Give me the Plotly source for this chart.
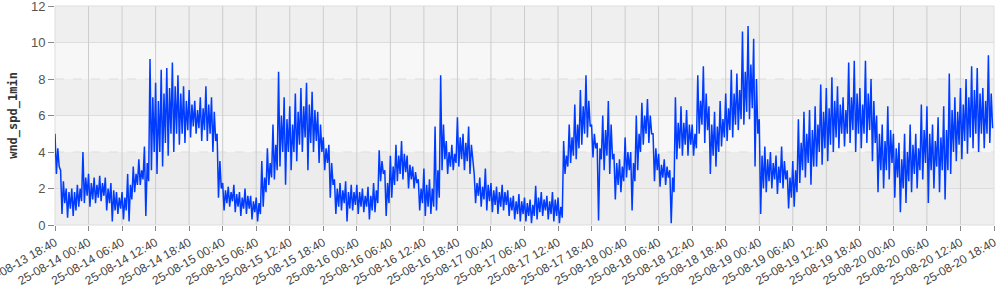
import plotly.graph_objects as go
import pandas as pd
import numpy as np

start_time = "2025-08-13 18:40"

# hourly extreme high / low of the 1-min wind speed
hourly_high = [
    5.0, 3.0, 2.0, 2.0, 2.2, 4.0,
    2.8, 2.6, 2.7, 2.6, 2.3, 1.8,
    1.8, 2.8, 3.2, 3.6, 4.3, 9.1,
    7.8, 8.5, 8.6, 8.9, 8.2, 7.6,
    7.4, 6.8, 7.0, 7.6, 7.0, 5.0,
    2.3, 2.1, 2.2, 1.8, 2.0, 1.6,
    1.5, 3.5, 4.2, 5.5, 8.4, 7.0,
    6.5, 7.2, 7.5, 7.8, 7.3, 6.2,
    4.8, 4.4, 2.5, 2.3, 2.4, 2.2,
    2.2, 2.0, 2.1, 2.3, 4.1, 3.0,
    3.8, 4.4, 4.6, 3.8, 3.2, 2.5,
    3.1, 2.5, 5.4, 8.2, 4.6, 4.4,
    5.9, 5.0, 5.4, 2.8, 2.6, 3.1,
    2.3, 2.1, 2.2, 1.9, 1.6, 1.7,
    1.5, 1.4, 2.15, 1.8, 1.6, 1.8,
    1.5, 4.6, 5.5, 6.6, 7.4, 8.2,
    5.5, 4.5, 6.0, 6.8, 3.9, 3.6,
    4.8, 4.0, 6.0, 6.7, 6.9, 5.0,
    3.9, 3.6, 3.0, 7.0, 6.5, 6.3,
    5.5, 8.2, 8.7, 6.5, 6.2, 6.8,
    7.2, 8.5, 8.3, 10.6, 10.9, 10.2,
    5.8, 4.3, 4.0, 3.8, 4.3, 3.0,
    3.5, 5.8, 6.2, 6.3, 6.5, 7.7,
    7.5, 8.1, 7.6, 7.0, 8.9, 9.0,
    7.5, 9.0, 8.0, 6.0, 5.5, 6.5,
    5.0, 4.5, 5.0, 5.5, 5.0, 6.6,
    6.5, 5.5, 5.9, 6.5, 8.3, 7.0,
    7.5, 8.0, 8.7, 8.6, 7.5, 9.3,
]
hourly_low = [
    2.8, 0.6, 0.4, 0.5, 1.0, 1.2,
    1.0, 1.2, 1.3, 0.8, 0.2, 0.6,
    0.3, 0.2, 1.8, 2.2, 0.5, 3.0,
    2.8, 3.2, 3.8, 4.0, 4.4, 4.5,
    4.8, 5.0, 4.6, 4.6, 4.0, 1.5,
    0.8, 1.0, 0.7, 0.5, 0.6, 0.3,
    0.2, 1.0, 2.2, 2.5, 3.2, 2.2,
    3.0, 3.5, 4.0, 3.0, 4.0, 3.4,
    3.0, 1.5, 0.6, 0.8, 0.2, 0.8,
    0.6, 0.7, 0.3, 0.7, 2.4, 0.5,
    1.5, 2.4, 2.5, 2.0, 2.0, 0.8,
    0.5, 0.6, 0.8, 3.0, 2.8, 3.0,
    3.2, 3.0, 2.8, 1.2, 1.0, 0.8,
    0.7, 0.6, 0.8, 0.5, 0.3, 0.2,
    0.2, 0.1, 0.3, 0.5, 0.3, 0.2,
    0.1, 2.8, 3.4, 3.6, 4.4, 4.8,
    3.7, 0.25, 3.0, 2.8, 1.4, 1.8,
    2.6, 0.8, 3.0, 4.4, 4.5, 2.4,
    2.1, 2.2, 0.1, 3.6, 3.8, 3.8,
    3.8, 5.0, 4.5, 2.8, 3.2, 4.3,
    4.6, 4.8, 5.2, 5.5, 5.8, 3.2,
    0.6, 1.8, 2.0, 1.7, 2.0, 0.9,
    1.0, 2.3, 2.6, 2.2, 3.2, 3.3,
    3.5, 4.0, 4.2, 4.3, 4.5, 4.0,
    4.2, 4.5, 3.5, 1.8, 2.0, 2.5,
    1.5, 0.7, 1.2, 1.8, 2.0, 2.5,
    1.2, 2.0, 1.8, 1.4, 2.8, 3.5,
    3.6, 3.9, 4.2, 4.0, 4.2, 4.5,
]
# hourly typical upper / lower edge of the dense band
hourly_high2 = [
    4.2, 2.4, 1.8, 1.8, 2.0, 2.6,
    2.3, 2.2, 2.3, 2.0, 1.9, 1.5,
    1.5, 2.2, 2.8, 3.0, 3.4, 7.0,
    6.8, 7.2, 7.5, 7.6, 7.2, 6.8,
    6.6, 6.3, 6.4, 6.6, 6.2, 3.5,
    1.9, 1.8, 1.7, 1.5, 1.6, 1.3,
    1.2, 2.6, 3.4, 4.4, 6.0, 5.8,
    5.5, 6.2, 6.5, 6.6, 6.3, 5.5,
    4.2, 3.4, 2.0, 1.9, 1.8, 1.8,
    1.8, 1.6, 1.6, 1.9, 3.5, 2.3,
    3.2, 3.8, 3.9, 3.3, 2.9, 2.0,
    2.2, 2.0, 3.0, 5.5, 4.0, 3.9,
    4.8, 4.5, 4.4, 2.3, 2.1, 2.2,
    1.9, 1.8, 1.8, 1.5, 1.3, 1.3,
    1.2, 1.1, 1.5, 1.4, 1.3, 1.4,
    1.0, 3.8, 4.8, 5.5, 6.5, 6.8,
    5.0, 4.2, 5.2, 5.5, 3.4, 3.2,
    4.0, 3.4, 5.0, 6.0, 6.0, 4.2,
    3.3, 3.2, 2.6, 5.6, 5.6, 5.5,
    5.0, 6.8, 7.2, 5.5, 5.4, 5.8,
    6.4, 7.2, 7.4, 8.4, 8.8, 8.0,
    3.8, 3.6, 3.4, 3.2, 3.5, 2.6,
    3.0, 4.5, 5.0, 5.2, 5.5, 6.2,
    6.4, 6.8, 6.6, 6.3, 7.0, 7.2,
    6.6, 7.2, 6.8, 5.0, 4.6, 5.2,
    4.2, 3.6, 4.0, 4.4, 4.2, 5.2,
    5.0, 4.6, 4.8, 5.2, 6.3, 6.2,
    6.6, 7.0, 7.4, 7.2, 6.8, 7.2,
]
hourly_low2 = [
    3.2, 1.2, 0.9, 0.8, 1.3, 1.6,
    1.4, 1.5, 1.6, 1.2, 0.8, 0.9,
    0.8, 1.4, 2.2, 2.5, 2.4, 4.0,
    4.0, 4.5, 5.0, 5.0, 5.0, 5.2,
    5.4, 5.3, 5.2, 5.0, 4.6, 2.0,
    1.2, 1.3, 1.0, 0.9, 0.9, 0.7,
    0.6, 1.8, 2.6, 3.0, 4.0, 4.0,
    4.0, 4.4, 4.8, 4.5, 4.6, 4.0,
    3.4, 2.2, 1.0, 1.2, 0.9, 1.1,
    1.0, 1.0, 0.8, 1.2, 2.8, 1.2,
    2.2, 2.8, 2.9, 2.5, 2.3, 1.2,
    1.0, 1.0, 1.5, 3.6, 3.2, 3.4,
    3.6, 3.5, 3.4, 1.6, 1.4, 1.3,
    1.1, 1.0, 1.1, 0.8, 0.6, 0.6,
    0.5, 0.5, 0.7, 0.8, 0.6, 0.5,
    0.4, 3.2, 3.8, 4.2, 5.0, 5.4,
    4.2, 3.6, 3.8, 3.6, 2.2, 2.4,
    3.0, 2.4, 4.0, 5.0, 5.0, 3.0,
    2.6, 2.6, 1.8, 4.2, 4.4, 4.4,
    4.2, 5.5, 5.2, 3.8, 4.0, 4.8,
    5.2, 5.5, 5.8, 6.2, 6.4, 5.0,
    2.0, 2.4, 2.5, 2.3, 2.5, 1.5,
    1.8, 3.0, 3.4, 3.2, 4.0, 4.2,
    4.4, 4.8, 5.0, 5.0, 5.2, 5.0,
    5.0, 5.2, 4.5, 3.0, 3.0, 3.4,
    2.6, 2.0, 2.4, 2.8, 3.0, 3.4,
    3.0, 3.2, 3.0, 3.0, 4.0, 4.4,
    4.6, 4.8, 5.0, 5.0, 5.0, 5.3,
]

y_ticks = [0, 2, 4, 6, 8, 10, 12]
tick_times = pd.date_range(start_time, periods=29, freq="6h")
tick_labels = [t.strftime("%y-%m-%d %H:%M") for t in tick_times]

# readings at 15-minute spacing: high, low, high2, low2 within each hour
n_hours = len(hourly_high)
times = pd.date_range(start_time, periods=n_hours * 4, freq="15min")
values = np.empty(n_hours * 4)
values[0::4] = hourly_high
values[1::4] = hourly_low
values[2::4] = hourly_high2
values[3::4] = hourly_low2

fig = go.Figure()
fig.add_trace(go.Scatter(
    x=times, y=values, mode="lines",
    line=dict(color="#003cff", width=1.5),
    hoverinfo="skip", showlegend=False,
))

shapes = []
band_colors = {0: "#efefef", 2: "#ececec", 4: "#f7f7f7", 6: "#efefef", 8: "#f7f7f7", 10: "#efefef"}
for lo, col in band_colors.items():
    shapes.append(dict(type="rect", xref="paper", yref="y", x0=0, x1=1, y0=lo, y1=lo + 2,
                       fillcolor=col, line=dict(width=0), layer="below"))
for v in [2, 4, 6, 8, 10]:
    shapes.append(dict(type="line", xref="paper", yref="y", x0=0, x1=1, y0=v, y1=v,
                       line=dict(color="#dddddd", width=1, dash="dash" if v in (4, 8) else "solid"),
                       layer="below"))
for t in tick_times[1:-1]:
    shapes.append(dict(type="line", xref="x", yref="paper", x0=t, x1=t, y0=0, y1=1,
                       line=dict(color="#cccccc", width=1), layer="below"))
shapes.append(dict(type="rect", xref="paper", yref="paper", x0=0, x1=1, y0=0, y1=1,
                   line=dict(color="#dddddd", width=1), layer="below"))

fig.update_layout(
    width=1000, height=290,
    margin=dict(l=55, r=6, t=6, b=65, autoexpand=False),
    paper_bgcolor="white", plot_bgcolor="white",
    shapes=shapes,
    font=dict(family="Liberation Sans, Arial, sans-serif", color="#444"),
)
fig.update_xaxes(
    type="date", automargin=False,
    range=[tick_times[0], tick_times[-1]],
    tickmode="array", tickvals=list(tick_times), ticktext=tick_labels,
    tickangle=-30, tickfont=dict(size=12, color="#444"),
    ticklabeloverflow="allow",
    showgrid=False, zeroline=False, showline=False,
    ticks="outside", ticklen=5, tickcolor="#888",
)
fig.update_yaxes(
    automargin=False,
    range=[0, 12], tickmode="array", tickvals=y_ticks,
    tickfont=dict(size=13, color="#555"),
    ticklabeloverflow="allow",
    showgrid=False, zeroline=False, showline=False,
    ticks="outside", ticklen=6, tickcolor="#888",
    title=dict(text="<b>wnd_spd_1min</b>", standoff=10,
               font=dict(family="DejaVu Sans Mono, monospace", size=12, color="#333")),
)

fig.write_html("out.html")
